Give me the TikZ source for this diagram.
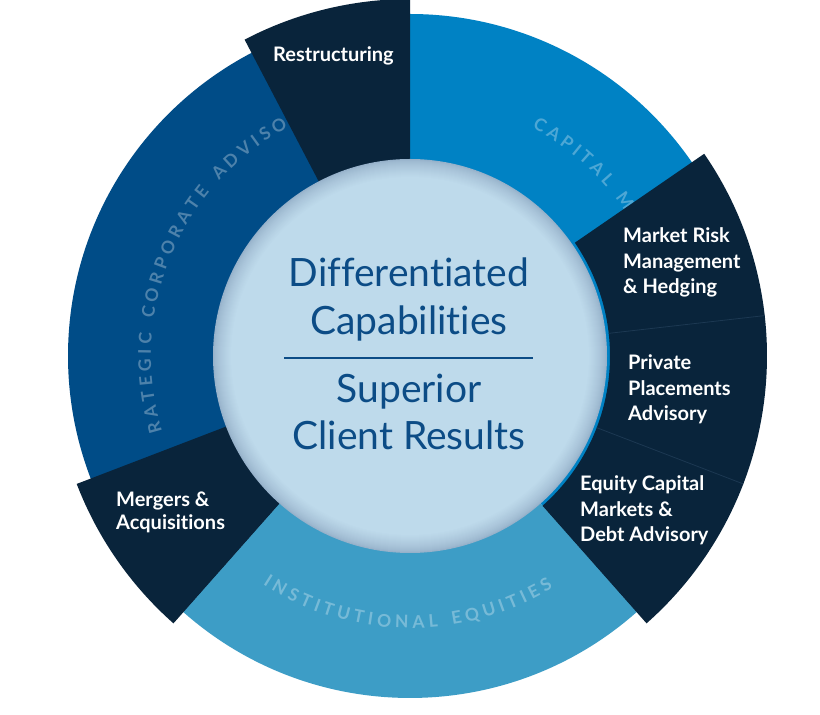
\documentclass[tikz,border=0pt]{standalone}
\usepackage{fontspec}
\setmainfont{Lato}[Ligatures={NoCommon}]
\usetikzlibrary{calc}
\definecolor{navy}{RGB}{9,36,59}
\definecolor{stratblue}{RGB}{0,76,135}
\definecolor{capblue}{RGB}{0,130,196}
\definecolor{instblue}{RGB}{61,157,198}
\definecolor{corein}{RGB}{190,218,235}
\definecolor{corerim}{RGB}{150,177,202}
\definecolor{coretext}{RGB}{12,76,134}
\definecolor{sepline}{RGB}{28,56,82}
\newsavebox\rtbox
\newcommand\ringfont{\bfseries\fontsize{17.5}{18}\selectfont}
\newcommand\stackl[1]{\begin{tabular}[t]{@{}l@{}}#1\end{tabular}}
\newcommand\stackc[1]{\begin{tabular}[t]{@{}c@{}}#1\end{tabular}}
\newcommand\sector[5]{% color, a1, a2, r, R
  \fill[#1] ([shift={(#2:#5)}]C) arc[start angle=#2, end angle=#3, radius=#5]
    -- ([shift={(#3:#4)}]C) arc[start angle=#3, end angle=#2, radius=#4] -- cycle;}
\makeatletter
% measure outside the picture: #1 prefix, #2 tracking, #3 chars
\newcommand\measuretext[3]{%
  \gdef\rttot{0}%
  \foreach \ch [count=\k] in {#3}{%
    \sbox\rtbox{\ringfont\ch}%
    \expandafter\xdef\csname rtw#1\k\endcsname{\strip@pt\wd\rtbox}%
    \pgfmathsetmacro\rtnew{\rttot+\csname rtw#1\k\endcsname+#2}%
    \global\let\rttot\rtnew}%
  \pgfmathsetmacro\rtnew{\rttot-#2}%
  \expandafter\xdef\csname rttot#1\endcsname{\rtnew}%
}
% draw inside the picture: #1 prefix, #2 center angle, #3 baseline radius, #4 dir,
% #5 tracking, #6 chars, #7 first drawn index, #8 last drawn index
\newcommand\ringtext[8]{%
  \pgfmathsetmacro\rtnew{#2+(#4)*(\csname rttot#1\endcsname/2)/(#3)*180/pi}%
  \global\let\rtang\rtnew
  \foreach \ch [count=\k] in {#6}{%
    \edef\rtw{\csname rtw#1\k\endcsname}%
    \pgfmathsetmacro\rtmid{\rtang-(#4)*(\rtw/2)/(#3)*180/pi}%
    \pgfmathsetmacro\rtrot{\rtmid-(#4)*90}%
    \ifnum\k<#7\relax\else\ifnum\k>#8\relax\else
      \node[ringletter, rotate=\rtrot] (#1\k) at ([shift={(\rtmid:#3)}]C) {\ch};%
    \fi\fi
    \pgfmathsetmacro\rtnew{\rtang-(#4)*(\rtw+#5)/(#3)*180/pi}%
    \global\let\rtang\rtnew}%
}
\makeatother
\tikzset{
  ringletter/.style={anchor=base, inner sep=0pt, font=\ringfont, text=white, text opacity=0.3},
  seglabel/.style={anchor=base west, inner sep=0pt, text=white, font=\bfseries\fontsize{20}{25.5}\selectfont},
  seglabeltight/.style={seglabel, font=\bfseries\fontsize{20}{23}\selectfont},
  coretitle/.style={anchor=base, inner sep=0pt, text=coretext, font=\fontsize{39}{48}\selectfont},
  coretitleb/.style={coretitle, font=\fontsize{39}{47}\selectfont},
  sep/.style={draw=sepline, line width=0.8pt}
}
\begin{document}
\measuretext{strat}{4.3}{S,T,R,A,T,E,G,I,C,\kern6pt,C,O,R,P,O,R,A,T,E,\kern6pt,A,D,V,I,S,O,R,Y}%
\measuretext{cap}{4}{C,A,P,I,T,A,L,\kern6pt,M,A,R,K,E,T,S}%
\measuretext{inst}{4.3}{I,N,S,T,I,T,U,T,I,O,N,A,L,\kern6pt,E,Q,U,I,T,I,E,S}%
\begin{tikzpicture}[x=1pt,y=1pt]
\useasboundingbox (0,0) rectangle (820,715);
\fill[white] (0,0) rectangle (820,715);
\coordinate (C) at (410,359);
% rings
\sector{stratblue}{90}{228.5}{185}{342}
\sector{capblue}{-48.5}{90}{185}{342}
\sector{instblue}{228.5}{311.5}{185}{342}
% ring texts (letters hidden under the dark segments are not drawn)
\ringtext{strat}{157.2}{259}{1}{4.3}{S,T,R,A,T,E,G,I,C,\kern6pt,C,O,R,P,O,R,A,T,E,\kern6pt,A,D,V,I,S,O,R,Y}{3}{26}
\ringtext{cap}{38}{259}{1}{4}{C,A,P,I,T,A,L,\kern6pt,M,A,R,K,E,T,S}{1}{9}
\ringtext{inst}{269.5}{272}{-1}{4.3}{I,N,S,T,I,T,U,T,I,O,N,A,L,\kern6pt,E,Q,U,I,T,I,E,S}{1}{22}
% dark segments
\sector{navy}{90}{117.6}{185}{357}
\sector{navy}{-48.5}{34.5}{200}{357}
\sector{navy}{201}{228.5}{185}{357}
\draw[sep] ([shift={(6.5:200)}]C) -- ([shift={(6.5:357)}]C);
\draw[sep] ([shift={(-21:200)}]C) -- ([shift={(-21:357)}]C);
% core
\foreach \i in {0,...,18}{
  \pgfmathsetmacro\mix{100*(\i/18)^0.7}
  \fill[corein!\mix!corerim] (C) circle[radius=197-\i];
}
\node[coretitle] (diff) at (409,428) {\stackc{Differentiated\\Capabilities}};
\node[coretitleb] (sup) at (409,312) {\stackc{Superior\\Client Results}};
\coordinate (dl) at (284,357);
\coordinate (dr) at (533,357);
\draw[coretext, line width=2pt] (dl) -- (dr);
% labels
\node[seglabel] (restr) at (273,653) {Restructuring};
\node[seglabel] (mrisk) at (623,472) {\stackl{Market Risk\\Management\\\& Hedging}};
\node[seglabel] (ppa) at (628,345) {\stackl{Private\\Placements\\Advisory}};
\node[seglabel] (ecm) at (580,224) {\stackl{Equity Capital\\Markets \&\\Debt Advisory}};
\node[seglabeltight] (ma) at (116,208) {\stackl{Mergers \&\\Acquisitions}};
\end{tikzpicture}
\end{document}
